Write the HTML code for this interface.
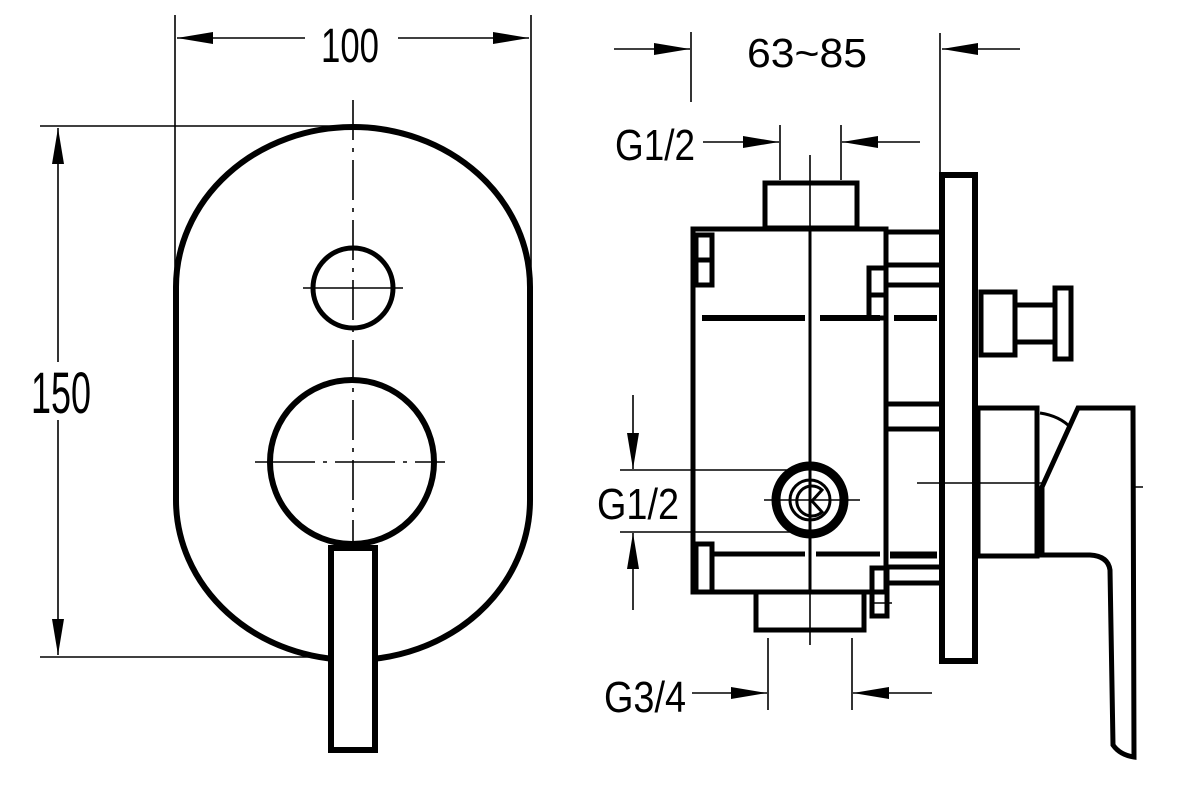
<!DOCTYPE html>
<html><head><meta charset="utf-8"><style>
html,body{margin:0;padding:0;background:#fff;}
svg{display:block}
text{font-family:"Liberation Sans Narrow","Liberation Sans",sans-serif;fill:#000}
</style></head><body>
<svg width="1193" height="801" viewBox="0 0 1193 801" xmlns="http://www.w3.org/2000/svg">
<defs>
<marker id="a" viewBox="0 0 36 12" refX="36" refY="6" markerWidth="36" markerHeight="12" markerUnits="userSpaceOnUse" orient="auto"><path d="M0,0L36,6L0,12z" fill="#000"/></marker>
</defs>
<g fill="none" stroke="#000">
<!-- LEFT VIEW -->
<g stroke-width="1.6">
<line x1="175" y1="15" x2="175" y2="290"/>
<line x1="531" y1="15" x2="531" y2="290"/>
<line x1="305" y1="38" x2="177" y2="38" marker-end="url(#a)"/>
<line x1="398" y1="38" x2="529" y2="38" marker-end="url(#a)"/>
<line x1="40" y1="126" x2="350" y2="126"/>
<line x1="40" y1="657" x2="345" y2="657"/>
<line x1="58" y1="362" x2="58" y2="128" marker-end="url(#a)"/>
<line x1="58" y1="420" x2="58" y2="655" marker-end="url(#a)"/>
<line x1="353" y1="100" x2="353" y2="665" stroke-dasharray="40,8,4,8"/>
<line x1="303" y1="288" x2="403" y2="288"/>
<line x1="255" y1="462" x2="445" y2="462" stroke-dasharray="60,8,4,8"/>
</g>
<path d="M176,287 A177,160 0 0 1 530,287 L530,500 A177,160 0 0 1 176,500 Z" stroke-width="6"/>
<circle cx="353" cy="288" r="40" stroke-width="5"/>
<circle cx="352" cy="462" r="82" stroke-width="6"/>
<rect x="331" y="548" width="44" height="202" fill="#fff" stroke-width="6"/>

<!-- RIGHT VIEW dims -->
<g stroke-width="1.6">
<line x1="691" y1="32" x2="691" y2="102"/>
<line x1="940" y1="33" x2="940" y2="172"/>
<line x1="614" y1="49" x2="690" y2="49" marker-end="url(#a)"/>
<line x1="1020" y1="49" x2="942" y2="49" marker-end="url(#a)"/>
<line x1="780" y1="125" x2="780" y2="180"/>
<line x1="841" y1="125" x2="841" y2="180"/>
<line x1="703" y1="142" x2="779" y2="142" marker-end="url(#a)"/>
<line x1="920" y1="142" x2="842" y2="142" marker-end="url(#a)"/>
<line x1="810" y1="155" x2="810" y2="645"/>
<line x1="620" y1="470" x2="790" y2="470"/>
<line x1="620" y1="532" x2="790" y2="532"/>
<line x1="633" y1="395" x2="633" y2="469" marker-end="url(#a)"/>
<line x1="633" y1="610" x2="633" y2="533" marker-end="url(#a)"/>
<line x1="764" y1="500" x2="860" y2="500"/>
<line x1="768" y1="638" x2="768" y2="710"/>
<line x1="852" y1="638" x2="852" y2="710"/>
<line x1="692" y1="693" x2="767" y2="693" marker-end="url(#a)"/>
<line x1="932" y1="693" x2="853" y2="693" marker-end="url(#a)"/>
<line x1="917" y1="483" x2="1065" y2="483"/>
<line x1="1042" y1="487" x2="1143" y2="487"/>
<line x1="870" y1="603" x2="892" y2="603"/>
</g>
<!-- body -->
<g stroke-width="5">
<rect x="765" y="183" width="92" height="45"/>
<rect x="693" y="229" width="193" height="363"/>
<line x1="810" y1="229" x2="810" y2="592" stroke-width="3"/>
<rect x="696" y="235" width="16" height="50"/>
<line x1="696" y1="260" x2="712" y2="260"/>
<rect x="869" y="268" width="17" height="50"/>
<line x1="869" y1="295" x2="886" y2="295"/>
<line x1="702" y1="318" x2="805" y2="318" stroke-width="6"/>
<line x1="820" y1="318" x2="880" y2="318" stroke-width="6"/>
<line x1="894" y1="318" x2="937" y2="318" stroke-width="6"/>
<line x1="886" y1="232" x2="940" y2="232"/>
<line x1="886" y1="265" x2="940" y2="265"/>
<line x1="886" y1="285" x2="940" y2="285"/>
<line x1="886" y1="404" x2="940" y2="404"/>
<line x1="886" y1="429" x2="940" y2="429"/>
<rect x="696" y="544" width="16" height="48"/>
<line x1="714" y1="554" x2="805" y2="554"/>
<line x1="816" y1="554" x2="880" y2="554"/>
<line x1="890" y1="555" x2="937" y2="555" stroke-width="7"/>
<line x1="886" y1="567" x2="940" y2="567"/>
<line x1="886" y1="583" x2="940" y2="583"/>
<rect x="872" y="568" width="15" height="48"/>
<rect x="756" y="592" width="108" height="38"/>
<rect x="942" y="175" width="33" height="486" stroke-width="6"/>
<rect x="981" y="292" width="34" height="63"/>
<line x1="1015" y1="305" x2="1055" y2="305"/>
<line x1="1015" y1="342" x2="1055" y2="342"/>
<rect x="1055" y="288" width="16" height="71"/>
<rect x="978" y="408" width="59" height="148"/>
<path d="M1078,408 L1133,408 L1134,757 Q1120,755 1113,745 L1110,570 Q1108,556 1090,555 L1042,555 L1042,487 Z" fill="#fff"/>
<path d="M1040,413 Q1060,416 1071,428" stroke-width="3"/>
</g>
<circle cx="810" cy="500" r="34" stroke-width="9"/>
<circle cx="810" cy="500" r="20" stroke-width="3"/>
<path d="M822,490 A15,15 0 1 0 822,512 L812,501 Z" stroke-width="3"/>
<line x1="810" y1="455" x2="810" y2="545" stroke-width="1.6"/>
</g>
<text x="350" y="62" font-size="48" text-anchor="middle" textLength="58" lengthAdjust="spacingAndGlyphs">100</text>
<text x="31" y="413" font-size="58" textLength="60" lengthAdjust="spacingAndGlyphs">150</text>
<text x="807" y="67" font-size="41" text-anchor="middle" style="font-family:'Liberation Sans',sans-serif" textLength="120" lengthAdjust="spacingAndGlyphs">63~85</text>
<text x="615" y="160" font-size="44" textLength="80" lengthAdjust="spacingAndGlyphs">G1/2</text>
<text x="597" y="519" font-size="44" textLength="82" lengthAdjust="spacingAndGlyphs">G1/2</text>
<text x="604" y="712" font-size="44" textLength="82" lengthAdjust="spacingAndGlyphs">G3/4</text>
</svg>
</body></html>
